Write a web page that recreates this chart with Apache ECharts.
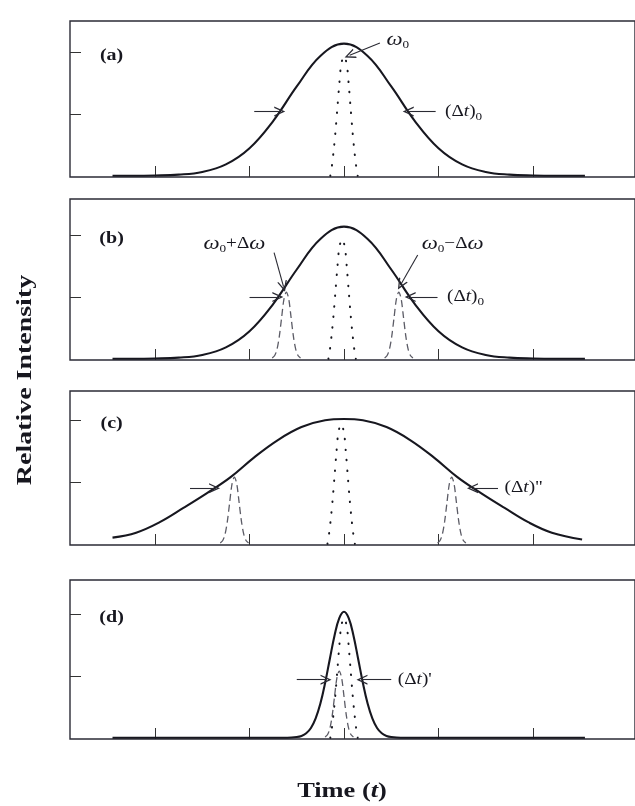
<!DOCTYPE html>
<html>
<head>
<meta charset="utf-8">
<title>Pulse width in time</title>
<script src="https://cdn.jsdelivr.net/npm/echarts@6/dist/echarts.min.js"></script>
<style>
  html, body { margin: 0; padding: 0; background: #fff; }
  #chart { width: 635px; height: 806px; }
</style>
</head>
<body>
<div id="chart"></div>
<script>
// time in tick units, 0 = pulse centre; intensity: 1 = upper tick
const timeTicks = [-2, -1, 0, 1, 2];
const intensityTicks = [0.5, 1];
const panelNames = ["(a)", "(b)", "(c)", "(d)"];

// (a), (b) transform-limited pulse
const pulseT = [-2.45, -2.25, -2, -1.75, -1.5, -1.25, -1, -0.75, -0.5, -0.25, 0, 0.25, 0.5, 0.75, 1, 1.25, 1.5, 1.75, 2, 2.25, 2.55];
const pulseI = [0, 0, 0.002, 0.009, 0.031, 0.092, 0.223, 0.443, 0.723, 0.97, 1.07, 0.97, 0.723, 0.443, 0.223, 0.092, 0.031, 0.009, 0.002, 0, 0];

// (c) broadened pulse
const chirpT = [-2.45, -2.2, -1.95, -1.7, -1.45, -1.2, -0.95, -0.7, -0.45, -0.2, 0, 0.2, 0.45, 0.7, 0.95, 1.2, 1.45, 1.7, 1.95, 2.2, 2.52];
const chirpI = [0.05, 0.09, 0.175, 0.29, 0.41, 0.54, 0.7, 0.84, 0.945, 1.0, 1.01, 1.0, 0.945, 0.84, 0.7, 0.54, 0.41, 0.29, 0.175, 0.09, 0.035];

// (d) compressed pulse
const compT = [-2.45, -0.6, -0.5, -0.45, -0.4, -0.35, -0.3, -0.25, -0.2, -0.15, -0.1, -0.05, 0, 0.05, 0.1, 0.15, 0.2, 0.25, 0.3, 0.35, 0.4, 0.45, 0.5, 0.6, 2.55];
const compI = [0, 0, 0.006, 0.015, 0.036, 0.079, 0.157, 0.277, 0.443, 0.638, 0.828, 0.968, 1.02, 0.968, 0.828, 0.638, 0.443, 0.277, 0.157, 0.079, 0.036, 0.015, 0.006, 0, 0];

// dotted: omega0 component (offsets from its centre)
const omegaT = [-0.145, -0.13, -0.11, -0.09, -0.07, -0.05, -0.03, 0, 0.03, 0.05, 0.07, 0.09, 0.11, 0.13, 0.145];
const omegaI = [0, 0.07, 0.2, 0.36, 0.55, 0.74, 0.9, 0.97, 0.9, 0.74, 0.55, 0.36, 0.2, 0.07, 0];
const omegaCentre = [0, -0.02, -0.03, 0];

// dashed: omega0 +/- delta omega components
const sideT = [-0.15, -0.125, -0.1, -0.075, -0.05, -0.025, 0, 0.025, 0.05, 0.075, 0.1, 0.125, 0.15];
const sideI = [0.006, 0.024, 0.074, 0.179, 0.334, 0.485, 0.54, 0.485, 0.334, 0.179, 0.074, 0.024, 0.006];
const sideCentre = [[], [-0.61, 0.58], [-1.16, 1.14], [-0.05]];

// arrows [fromT, fromI, toT, toI]
const arrows = [
  [[-0.95, 0.52, -0.68, 0.52], [0.97, 0.52, 0.68, 0.52], [0.38, 1.075, 0.06, 0.975]],
  [[-1.0, 0.5, -0.7, 0.5], [0.99, 0.5, 0.7, 0.5], [-0.74, 0.86, -0.64, 0.585], [0.78, 0.84, 0.6, 0.6]],
  [[-1.63, 0.45, -1.37, 0.45], [1.63, 0.45, 1.36, 0.45]],
  [[-0.5, 0.47, -0.19, 0.47], [0.5, 0.47, 0.19, 0.47]],
];

// annotation texts [t, i, text, align]
const notes = [
  [[0.45, 1.1, "{w|ω}{s|0}", "left"], [1.07, 0.52, "{n|(Δ}{i|t}{n|)}{s|0}", "left"]],
  [[-1.16, 0.93, "{w|ω}{s|0}{n|+Δ}{w|ω}", "center"], [1.15, 0.93, "{w|ω}{s|0}{n|−Δ}{w|ω}", "center"], [1.09, 0.5, "{n|(Δ}{i|t}{n|)}{s|0}", "left"]],
  [[1.7, 0.45, "{n|(Δ}{i|t}{n|)\"}", "left"]],
  [[0.57, 0.47, "{n|(Δ}{i|t}{n|)'}", "left"]],
];

const xMin = -2.9, xMax = 3.08, yMin = -0.01;
const panels = [
  { top: 21, height: 156, yMax: 1.253 },
  { top: 199, height: 161, yMax: 1.294 },
  { top: 391, height: 154, yMax: 1.237 },
  { top: 580, height: 159, yMax: 1.277 },
];

const ink = "#17171f";
const serif = '"Liberation Serif", "DejaVu Serif", serif';
const chevron = "path://M5,0 L10,10 L8.6,10 L5,2.8 L1.4,10 L0,10 Z";

const pts = (t, v, shift) => t.map((x, k) => [x + shift, v[k]]);

const chart = echarts.init(document.getElementById("chart"));

const grid = [], xAxis = [], yAxis = [], series = [];
panels.forEach((p, i) => {
  grid.push({
    left: 70, right: -2, top: p.top, height: p.height,
    show: true, borderColor: "#2b2b36", borderWidth: 1.4,
  });
  xAxis.push({
    type: "value", gridIndex: i, min: xMin, max: xMax,
    axisLine: { show: false, onZero: false }, splitLine: { show: false }, axisLabel: { show: false },
    axisTick: { show: true, inside: true, length: 11, customValues: timeTicks, lineStyle: { color: "#333", width: 1 } },
  });
  yAxis.push({
    type: "value", gridIndex: i, min: yMin, max: p.yMax,
    axisLine: { show: false, onZero: false }, splitLine: { show: false }, axisLabel: { show: false },
    axisTick: { show: true, inside: true, length: 11, customValues: intensityTicks, lineStyle: { color: "#333", width: 1 } },
  });

  sideCentre[i].forEach((c) => {
    series.push({
      type: "line", xAxisIndex: i, yAxisIndex: i, symbol: "none", smooth: 0.3,
      data: pts(sideT, sideI, c),
      lineStyle: { color: "#5c5c66", width: 1.3, type: [7, 4] },
    });
  });

  series.push({
    type: "line", xAxisIndex: i, yAxisIndex: i, symbol: "none", smooth: 0.3,
    data: pts(omegaT, omegaI, omegaCentre[i]),
    lineStyle: { color: ink, width: 2, type: [0.5, 10], cap: "round" },
  });

  const solid = [[pulseT, pulseI], [pulseT, pulseI], [chirpT, chirpI], [compT, compI]][i];
  series.push({
    type: "line", xAxisIndex: i, yAxisIndex: i, symbol: "none", smooth: 0.4,
    data: pts(solid[0], solid[1], 0),
    lineStyle: { color: ink, width: 2.1 },
    markLine: {
      silent: true, animation: false,
      symbol: ["none", chevron], symbolSize: [10, 11],
      label: { show: false },
      lineStyle: { color: "#2a2a33", width: 1.1, type: "solid" },
      data: arrows[i].map((a) => [{ coord: [a[0], a[1]] }, { coord: [a[2], a[3]] }]),
    },
  });
});

chart.setOption({
  animation: false,
  backgroundColor: "#ffffff",
  grid, xAxis, yAxis, series,
});

const rich = {
  n: { fontFamily: serif, fontSize: 16, fill: ink, lineHeight: 22 },
  i: { fontFamily: serif, fontSize: 16, fontStyle: "italic", fill: ink, lineHeight: 22 },
  w: { fontFamily: serif, fontSize: 19, fontStyle: "italic", fill: ink, lineHeight: 22 },
  s: { fontFamily: serif, fontSize: 11, fill: ink, lineHeight: 12, verticalAlign: "bottom" },
};

const graphic = [];
notes.forEach((list, i) => {
  list.forEach((n) => {
    const [px, py] = chart.convertToPixel({ gridIndex: i }, [n[0], n[1]]);
    graphic.push({
      type: "text", x: px, y: py, scaleX: 1.2, silent: true, z: 20,
      style: { text: n[2], rich, align: n[3], verticalAlign: "middle", fill: ink },
    });
  });
  const [lx, ly] = chart.convertToPixel({ gridIndex: i }, [-2.46, 0.97]);
  graphic.push({
    type: "text", x: lx, y: ly, scaleX: 1.25, silent: true, z: 20,
    style: { text: panelNames[i], fontFamily: serif, fontSize: 16, fontWeight: "bold", fill: ink, align: "center", verticalAlign: "middle" },
  });
});

graphic.push({
  type: "text", x: 25, y: 380, rotation: Math.PI / 2, scaleX: 1.27, silent: true,
  style: { text: "Relative Intensity", fontFamily: serif, fontSize: 22, fontWeight: "bold", fill: ink, align: "center", verticalAlign: "middle" },
});
graphic.push({
  type: "text", x: 342, y: 791, scaleX: 1.2, silent: true,
  style: {
    text: "{b|Time (}{bi|t}{b|)}", align: "center", verticalAlign: "middle",
    rich: {
      b: { fontFamily: serif, fontSize: 22, fontWeight: "bold", fill: ink },
      bi: { fontFamily: serif, fontSize: 22, fontWeight: "bold", fontStyle: "italic", fill: ink },
    },
  },
});

chart.setOption({ graphic });
</script>
</body>
</html>
